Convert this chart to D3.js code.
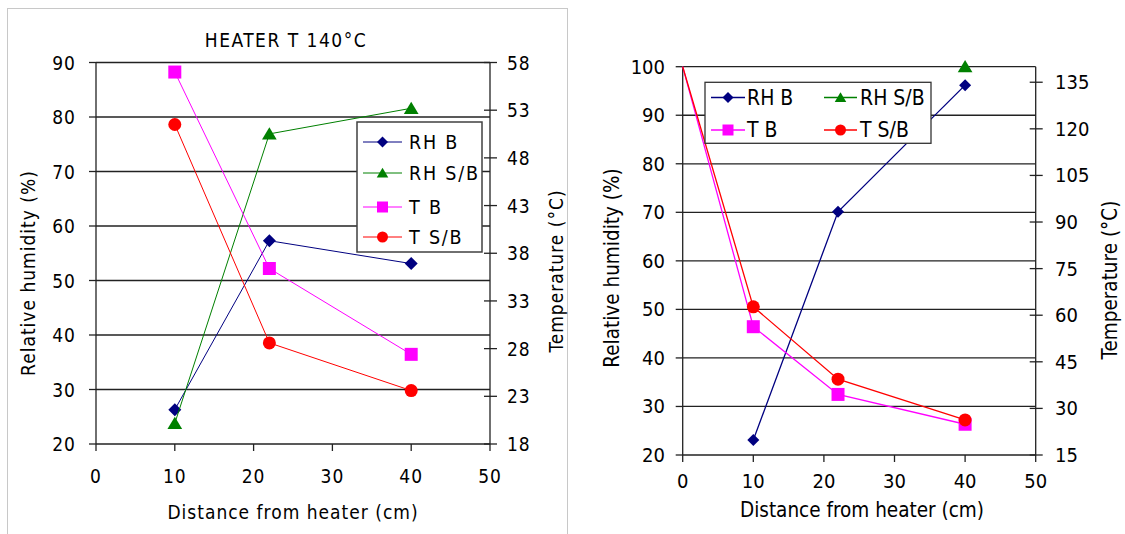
<!DOCTYPE html>
<html>
<head>
<meta charset="utf-8">
<script src="https://cdn.jsdelivr.net/npm/d3@7"></script>
<style>
  html, body { margin: 0; padding: 0; background: #fff; }
  svg { display: block; }
  text { font-family: "DejaVu Sans Condensed", "DejaVu Sans", sans-serif; fill: #000; }
</style>
</head>
<body>
<svg id="chart" width="1125" height="534"></svg>
<script>
// ---------- data ----------
// Left panel (heater T 140 °C)
const leftTitle = "HEATER T 140°C";
const leftDist = [10, 22, 40];
const leftRHB = [26.3, 57.3, 53.1];
const leftRHSB = [23.8, 76.9, 81.6];
const leftTB = [57.0, 36.4, 27.4];
const leftTSB = [51.5, 28.6, 23.6];
const leftXTicks = [0, 10, 20, 30, 40, 50];
const leftYTicks = [20, 30, 40, 50, 60, 70, 80, 90];
const leftY2Ticks = [18, 23, 28, 33, 38, 43, 48, 53, 58];

// Right panel (temperature lines start at the heater, x = 0, without a marker)
const rightDistRH = [10, 22, 40];
const rightRHB = [23.1, 70.1, 96.2];
const rightDistRHSB = [40];
const rightRHSB = [100];
const rightDistT = [0, 10, 22, 40];
const rightTB = [140, 56.3, 34.5, 24.9];
const rightTSB = [140, 62.7, 39.4, 26.3];
const rightXTicks = [0, 10, 20, 30, 40, 50];
const rightYTicks = [20, 30, 40, 50, 60, 70, 80, 90, 100];
const rightY2Ticks = [15, 30, 45, 60, 75, 90, 105, 120, 135];

const seriesNames = ["RH B", "RH S/B", "T B", "T S/B"];
const seriesColors = ["#000080", "#008000", "#ff00ff", "#ff0000"];
const seriesShapes = ["diamond", "triangle", "square", "circle"];

const svg = d3.select("#chart");

function markerPath(shape, s) {
  const h = s / 2;
  if (shape === "diamond") return `M0,${-h}L${h},0L0,${h}L${-h},0Z`;
  if (shape === "square") return `M${-h},${-h}H${h}V${h}H${-h}Z`;
  if (shape === "triangle") return `M0,${-h*0.95}L${h*1.05},${h*0.8}L${-h*1.05},${h*0.8}Z`;
  if (shape === "circle") return d3.arc()({innerRadius:0, outerRadius:h, startAngle:0, endAngle:2*Math.PI});
}

function drawSeries(g, xs, ys, x, y, idx, lw, ms) {
  const pts = xs.map((d, i) => [x(d), y(ys[i]), d]);
  g.append("path")
    .attr("d", d3.line()(pts.map(p => [p[0], p[1]])))
    .attr("fill", "none")
    .attr("stroke", seriesColors[idx])
    .attr("stroke-width", lw);
  g.selectAll(null).data(pts.filter(p => p[2] > 0)).enter().append("path")
    .attr("transform", d => `translate(${d[0]},${d[1]})`)
    .attr("d", markerPath(seriesShapes[idx], ms))
    .attr("fill", seriesColors[idx]);
}

function drawAxes(g, cfg) {
  const {x, y, y2, xTicks, yTicks, y2Ticks, x0, x1, yT, yB, fs, ls} = cfg;
  const gridColor = "#222";
  g.selectAll(null).data(yTicks).enter().append("line")
    .attr("x1", x0).attr("x2", x1)
    .attr("y1", d => y(d)).attr("y2", d => y(d))
    .attr("stroke", gridColor).attr("stroke-width", 1.3);
  g.append("line").attr("x1", x0).attr("x2", x0).attr("y1", yT).attr("y2", yB)
    .attr("stroke", gridColor).attr("stroke-width", 1.3);
  g.selectAll(null).data(yTicks).enter().append("line")
    .attr("x1", x0 - 7).attr("x2", x0)
    .attr("y1", d => y(d)).attr("y2", d => y(d))
    .attr("stroke", gridColor).attr("stroke-width", 1.3);
  g.selectAll(null).data(yTicks).enter().append("text")
    .attr("x", cfg.yLabelX).attr("y", d => y(d))
    .attr("text-anchor", "end").attr("dominant-baseline", "central")
    .style("font-size", fs + "px").style("letter-spacing", ls + "px")
    .text(d => d);
  g.append("line").attr("x1", x1).attr("x2", x1).attr("y1", yT).attr("y2", yB)
    .attr("stroke", gridColor).attr("stroke-width", 1.3);
  g.selectAll(null).data(y2Ticks).enter().append("line")
    .attr("x1", x1 - 6).attr("x2", x1 + 7)
    .attr("y1", d => y2(d)).attr("y2", d => y2(d))
    .attr("stroke", gridColor).attr("stroke-width", 1.3);
  g.selectAll(null).data(y2Ticks).enter().append("text")
    .attr("x", cfg.y2LabelX).attr("y", d => y2(d))
    .attr("text-anchor", "start").attr("dominant-baseline", "central")
    .style("font-size", fs + "px").style("letter-spacing", ls + "px")
    .text(d => d);
  g.selectAll(null).data(xTicks).enter().append("line")
    .attr("x1", d => x(d)).attr("x2", d => x(d))
    .attr("y1", yB).attr("y2", yB + 7)
    .attr("stroke", gridColor).attr("stroke-width", 1.3);
  g.selectAll(null).data(xTicks).enter().append("text")
    .attr("x", d => x(d)).attr("y", cfg.xLabelY)
    .attr("text-anchor", "middle").attr("dominant-baseline", "central")
    .style("font-size", fs + "px").style("letter-spacing", ls + "px")
    .text(d => d);
}

function legendEntry(g, lx0, lx1, tx, ty, idx, fs, ls, ms, lw) {
  g.append("line").attr("x1", lx0).attr("x2", lx1).attr("y1", ty).attr("y2", ty)
    .attr("stroke", seriesColors[idx]).attr("stroke-width", lw);
  g.append("path").attr("transform", `translate(${(lx0 + lx1) / 2},${ty})`)
    .attr("d", markerPath(seriesShapes[idx], ms)).attr("fill", seriesColors[idx]);
  g.append("text").attr("x", tx).attr("y", ty).attr("dominant-baseline", "central")
    .style("font-size", fs + "px").style("letter-spacing", ls + "px")
    .text(seriesNames[idx]);
}

// ---------- LEFT PANEL ----------
{
  const g = svg.append("g");
  g.append("rect").attr("x", 7.5).attr("y", 8.5).attr("width", 560).attr("height", 540)
    .attr("fill", "#fff").attr("stroke", "#c8c8c8").attr("stroke-width", 1);
  const x0 = 96, x1 = 490, yT = 62.5, yB = 444;
  const x = d3.scaleLinear().domain([0, 50]).range([x0, x1]);
  const y = d3.scaleLinear().domain([20, 90]).range([yB, yT]);
  const y2 = d3.scaleLinear().domain([18, 58]).range([yB, yT]);
  const fs = 19, ls = 1;
  drawAxes(g, {x, y, y2, xTicks: leftXTicks, yTicks: leftYTicks, y2Ticks: leftY2Ticks,
    x0, x1, yT, yB, fs, ls, yLabelX: 76, y2LabelX: 507, xLabelY: 476});

  g.append("text").attr("x", 286).attr("y", 40).attr("text-anchor", "middle")
    .attr("dominant-baseline", "central").style("font-size", "19px").style("letter-spacing", "1.5px")
    .text(leftTitle);
  g.append("text").attr("x", 293).attr("y", 512).attr("text-anchor", "middle")
    .attr("dominant-baseline", "central").style("font-size", fs + "px").style("letter-spacing", "1px")
    .text("Distance from heater (cm)");
  g.append("text").attr("transform", "translate(28,273) rotate(-90)").attr("text-anchor", "middle")
    .attr("dominant-baseline", "central").style("font-size", fs + "px").style("letter-spacing", "1px")
    .text("Relative humidity (%)");
  g.append("text").attr("transform", "translate(556,271) rotate(-90)").attr("text-anchor", "middle")
    .attr("dominant-baseline", "central").style("font-size", fs + "px").style("letter-spacing", "1px")
    .text("Temperature (°C)");

  drawSeries(g, leftDist, leftRHB, x, y, 0, 1, 13);
  drawSeries(g, leftDist, leftRHSB, x, y, 1, 1, 14);
  drawSeries(g, leftDist, leftTB, x, y2, 2, 1, 13);
  drawSeries(g, leftDist, leftTSB, x, y2, 3, 1, 13);

  g.append("rect").attr("x", 357).attr("y", 122).attr("width", 125).attr("height", 130)
    .attr("fill", "#fff").attr("stroke", "#404040").attr("stroke-width", 1.5);
  const rows = [142, 173, 207, 237];
  rows.forEach((ry, i) => legendEntry(g, 363, 402, 409, ry, i, 19.5, 1.8, 11, 1));
}

// ---------- RIGHT PANEL ----------
{
  const g = svg.append("g");
  const x0 = 682.7, x1 = 1035.7, yT = 66.7, yB = 455;
  const x = d3.scaleLinear().domain([0, 50]).range([x0, x1]);
  const y = d3.scaleLinear().domain([20, 100]).range([yB, yT]);
  const y2 = d3.scaleLinear().domain([15, 140]).range([yB, yT]);
  const fs = 20, ls = 0;
  drawAxes(g, {x, y, y2, xTicks: rightXTicks, yTicks: rightYTicks, y2Ticks: rightY2Ticks,
    x0, x1, yT, yB, fs, ls, yLabelX: 665, y2LabelX: 1055, xLabelY: 481});

  g.append("text").attr("x", 862).attr("y", 510).attr("text-anchor", "middle")
    .attr("dominant-baseline", "central").style("font-size", "20.5px")
    .text("Distance from heater (cm)");
  g.append("text").attr("transform", "translate(612,268) rotate(-90)").attr("text-anchor", "middle")
    .attr("dominant-baseline", "central").style("font-size", "20.5px")
    .text("Relative humidity (%)");
  g.append("text").attr("transform", "translate(1110,280) rotate(-90)").attr("text-anchor", "middle")
    .attr("dominant-baseline", "central").style("font-size", "20.5px")
    .text("Temperature  (°C)");

  drawSeries(g, rightDistRH, rightRHB, x, y, 0, 1.3, 12);
  drawSeries(g, rightDistRHSB, rightRHSB, x, y, 1, 1.3, 14);
  drawSeries(g, rightDistT, rightTB, x, y2, 2, 1.3, 13);
  drawSeries(g, rightDistT, rightTSB, x, y2, 3, 1.3, 13);

  g.append("rect").attr("x", 705).attr("y", 82.3).attr("width", 226).attr("height", 61)
    .attr("fill", "#fff").attr("stroke", "#333").attr("stroke-width", 1.3);
  legendEntry(g, 711, 745, 747, 97.5, 0, 21, 0, 11, 1.3);
  legendEntry(g, 824, 857, 860, 97.5, 1, 21, 0, 11, 1.3);
  legendEntry(g, 711, 745, 747, 130, 2, 21, 0, 11, 1.3);
  legendEntry(g, 824, 857, 860, 130, 3, 21, 0, 11, 1.3);
}
</script>
</body>
</html>
